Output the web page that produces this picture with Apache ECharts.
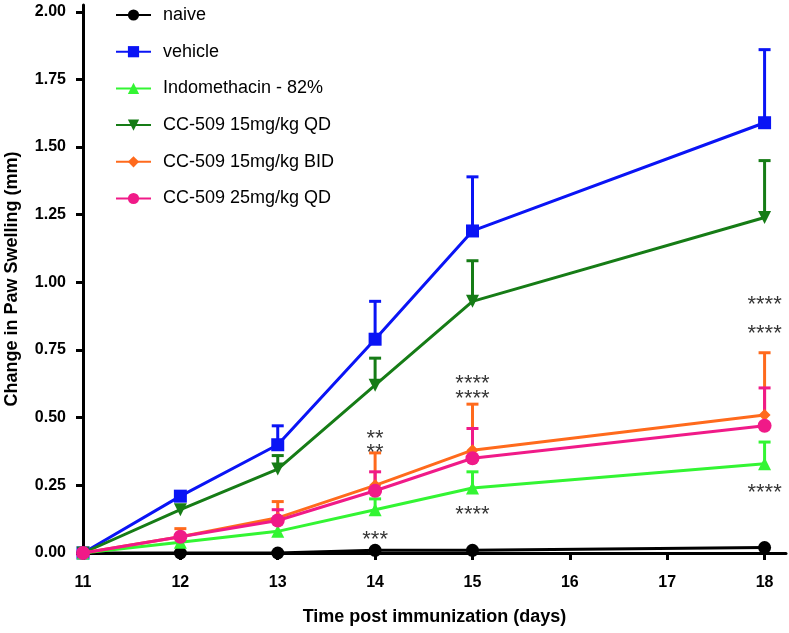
<!DOCTYPE html>
<html>
<head>
<meta charset="utf-8">
<script src="https://cdn.jsdelivr.net/npm/echarts@6/dist/echarts.min.js"></script>
<style>html,body{margin:0;padding:0;background:#fff}#c{width:789px;height:633px}</style>
</head>
<body>
<div id="c"></div>
<script>
const days = [11, 12, 13, 14, 15, 18];
const xTicks = [11, 12, 13, 14, 15, 16, 17, 18];
const yTicks = [0, 0.25, 0.5, 0.75, 1.0, 1.25, 1.5, 1.75, 2.0];

const naive = [0, 0, 0, 0.01, 0.01, 0.02];
const naiveErr = [0, 0, 0, 0, 0, 0];
const vehicle = [0, 0.21, 0.40, 0.79, 1.19, 1.59];
const vehicleErr = [0, 0.01, 0.07, 0.14, 0.20, 0.27];
const indo = [0, 0.04, 0.08, 0.16, 0.24, 0.33];
const indoErr = [0, 0, 0, 0.04, 0.06, 0.08];
const cc15qd = [0, 0.16, 0.31, 0.62, 0.93, 1.24];
const cc15qdErr = [0, 0, 0.05, 0.10, 0.15, 0.21];
const cc15bid = [0, 0.06, 0.13, 0.25, 0.38, 0.51];
const cc15bidErr = [0, 0.03, 0.06, 0.12, 0.17, 0.23];
const cc25qd = [0, 0.06, 0.12, 0.23, 0.35, 0.47];
const cc25qdErr = [0, 0, 0.04, 0.07, 0.11, 0.14];

const annX = [14, 14, 14, 15, 15, 15, 18, 18, 18];
const annY = [0.444, 0.392, 0.07, 0.647, 0.591, 0.163, 0.939, 0.832, 0.244];
const annText = ['**', '**', '***', '****', '****', '****', '****', '****', '****'];

const seriesDefs = [
  {name: 'naive', data: naive, err: naiveErr, color: '#000000', symbol: 'circle', size: 13, rotate: 0},
  {name: 'vehicle', data: vehicle, err: vehicleErr, color: '#0a14f5', symbol: 'rect', size: 13, rotate: 0},
  {name: 'Indomethacin - 82%', data: indo, err: indoErr, color: '#33f533', symbol: 'triangle', size: 13, rotate: 0},
  {name: 'CC-509 15mg/kg QD', data: cc15qd, err: cc15qdErr, color: '#167c16', symbol: 'triangle', size: 13, rotate: 180},
  {name: 'CC-509 15mg/kg BID', data: cc15bid, err: cc15bidErr, color: '#ff6a1c', symbol: 'diamond', size: 12, rotate: 0},
  {name: 'CC-509 25mg/kg QD', data: cc25qd, err: cc25qdErr, color: '#f01a88', symbol: 'circle', size: 14, rotate: 0}
];

const FONT = '"Liberation Sans", Arial, Helvetica, sans-serif';
const series = [];
seriesDefs.forEach(function (d, i) {
  const color = d.color;
  series.push({
    type: 'custom',
    name: d.name + ' err',
    z: 1,
    silent: true,
    renderItem: function (params, api) {
      const x = api.value(0), y = api.value(1), e = api.value(2);
      if (!e) return null;
      const p0 = api.coord([x, y]);
      const p1 = api.coord([x, y + e]);
      const w = 6;
      return {
        type: 'group',
        children: [
          {type: 'line', shape: {x1: p0[0], y1: p0[1], x2: p1[0], y2: p1[1]}, style: {stroke: color, lineWidth: 3}},
          {type: 'line', shape: {x1: p1[0] - w, y1: p1[1], x2: p1[0] + w, y2: p1[1]}, style: {stroke: color, lineWidth: 3}}
        ]
      };
    },
    data: days.map(function (x, j) { return [x, d.data[j], d.err[j]]; })
  });
  series.push({
    type: 'line',
    name: d.name,
    z: 2 + i,
    data: days.map(function (x, j) { return [x, d.data[j]]; }),
    symbol: d.symbol,
    symbolSize: d.size,
    symbolRotate: d.rotate,
    showAllSymbol: true,
    color: color,
    lineStyle: {color: color, width: 3},
    itemStyle: {color: color, borderWidth: 0},
    emphasis: {disabled: true}
  });
});
series.push({
  type: 'scatter',
  name: 'annotations',
  z: 20,
  symbolSize: 0,
  silent: true,
  data: annX.map(function (x, j) { return [x, annY[j], annText[j]]; }),
  label: {
    show: true,
    position: 'inside',
    offset: [0, 6],
    formatter: function (p) { return p.data[2]; },
    color: '#000',
    fontSize: 22,
    fontFamily: FONT
  }
});

const chart = echarts.init(document.getElementById('c'), null, {renderer: 'canvas'});
chart.setOption({
  animation: false,
  backgroundColor: '#ffffff',
  grid: {left: 83, right: 3, top: 5, bottom: 80, containLabel: false, outerBoundsMode: 'none'},
  legend: {
    data: seriesDefs.map(function (d) { return d.name; }),
    orient: 'vertical',
    left: 110,
    top: 1,
    itemWidth: 35,
    itemHeight: 14,
    itemGap: 18.7,
    selectedMode: false,
    textStyle: {fontSize: 18, color: '#000', fontFamily: FONT, padding: [0, 0, 0, 7]}
  },
  xAxis: {
    type: 'value',
    min: 11,
    max: 18.22,
    name: 'Time post immunization (days)',
    nameLocation: 'middle',
    nameGap: 55,
    nameTextStyle: {fontSize: 18, fontWeight: 'bold', color: '#000', fontFamily: FONT},
    axisLine: {show: true, lineStyle: {color: '#000', width: 3}},
    axisTick: {show: true, customValues: xTicks, length: 7, lineStyle: {color: '#000', width: 3}},
    axisLabel: {customValues: xTicks, fontSize: 16, fontWeight: 'bold', color: '#000', margin: 22, fontFamily: FONT},
    splitLine: {show: false}
  },
  yAxis: {
    type: 'value',
    min: 0,
    max: 2.025,
    name: 'Change in Paw Swelling (mm)',
    nameLocation: 'middle',
    nameGap: 62,
    nameTextStyle: {fontSize: 18, fontWeight: 'bold', color: '#000', fontFamily: FONT},
    axisLine: {show: true, lineStyle: {color: '#000', width: 3}},
    axisTick: {show: true, customValues: yTicks, length: 7, lineStyle: {color: '#000', width: 3}},
    axisLabel: {customValues: yTicks, fontSize: 16, fontWeight: 'bold', color: '#000', margin: 17, fontFamily: FONT,
      formatter: function (v) { return v.toFixed(2); }},
    splitLine: {show: false}
  },
  series: series
});
</script>
</body>
</html>
